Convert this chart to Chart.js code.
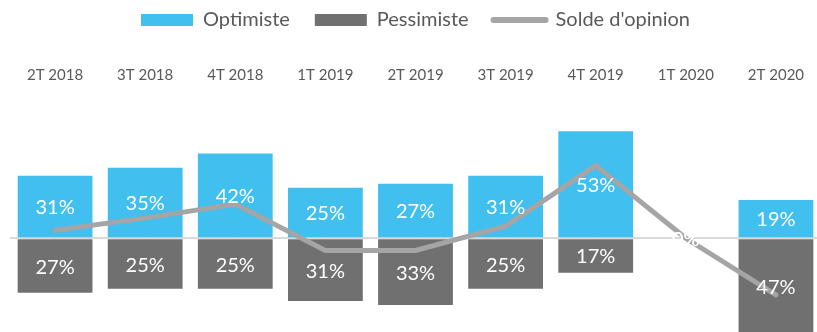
<!DOCTYPE html>
<html>
<head>
<meta charset="utf-8">
<script src="https://cdn.jsdelivr.net/npm/chart.js@4/dist/chart.umd.min.js"></script>
<style>
  html, body { margin: 0; padding: 0; background: #fff; overflow: hidden; }
  #wrap { width: 821px; height: 332px; position: relative; }
</style>
</head>
<body>
<div id="wrap"><canvas id="c"></canvas></div>
<script>
// Baromètre : part d'optimistes, de pessimistes et solde d'opinion par trimestre
const categories = ['2T 2018', '3T 2018', '4T 2018', '1T 2019', '2T 2019', '3T 2019', '4T 2019', '1T 2020', '2T 2020'];
const optimiste  = [31, 35, 42, 25, 27, 31, 53, 0, 19];
const pessimiste = [27, 25, 25, 31, 33, 25, 17, 0, 47];
const solde      = [4, 10, 17, -6, -6, 6, 36, 0, -28];

const FONT = 'Lato, "Open Sans", sans-serif';
const TEXT = '#595959';

// Pessimists are plotted below the zero line
const pessimisteNeg = pessimiste.map(v => -v);

// White percentage labels centred in each bar, plus small tick marks on the zero line
const barLabels = {
  id: 'barLabels',
  beforeDatasetsDraw(chart) {
    const { ctx } = chart;
    const x = chart.scales.x, y = chart.scales.y;
    const y0 = y.getPixelForValue(0);
    ctx.save();
    ctx.strokeStyle = '#d9d9d9';
    ctx.lineWidth = 1;
    categories.forEach((_, i) => {
      const px = Math.round(x.getPixelForValue(i)) + 0.5;
      ctx.beginPath();
      ctx.moveTo(px, y0);
      ctx.lineTo(px, y0 + 4);
      ctx.stroke();
    });
    ctx.restore();
  },
  afterDatasetsDraw(chart) {
    const { ctx } = chart;
    ctx.save();
    ctx.fillStyle = '#ffffff';
    ctx.font = '20px ' + FONT;
    ctx.textAlign = 'center';
    ctx.textBaseline = 'middle';
    [0, 1].forEach(di => {
      const meta = chart.getDatasetMeta(di);
      const src = di === 0 ? optimiste : pessimiste;
      meta.data.forEach((bar, i) => {
        const cy = (bar.y + bar.base) / 2;
        ctx.fillText(src[i] + '%', bar.x, cy + 1);
      });
    });
    ctx.restore();
  }
};

new Chart(document.getElementById('c'), {
  data: {
    labels: categories,
    datasets: [
      {
        type: 'bar',
        label: 'Optimiste',
        data: optimiste,
        backgroundColor: '#41bfef',
        order: 1
      },
      {
        type: 'bar',
        label: 'Pessimiste',
        data: pessimisteNeg,
        backgroundColor: '#707070',
        order: 1
      },
      {
        type: 'line',
        label: "Solde d'opinion",
        data: solde,
        stack: 'solde',
        borderColor: '#a5a5a5',
        backgroundColor: '#a5a5a5',
        borderWidth: 5,
        borderCapStyle: 'round',
        pointRadius: 0,
        pointHoverRadius: 0,
        tension: 0,
        order: 0
      }
    ]
  },
  options: {
    responsive: true,
    maintainAspectRatio: false,
    animation: false,
    layout: { padding: { top: -15, left: 10, right: 0, bottom: 0 } },
    datasets: {
      bar: { barPercentage: 1, categoryPercentage: 0.83 }
    },
    scales: {
      x: {
        position: 'top',
        stacked: true,
        grid: { display: false, drawTicks: false },
        border: { display: false },
        ticks: { color: TEXT, font: { family: FONT, size: 15 }, padding: 16, maxRotation: 0 },
        afterFit(s) { s.height = 60; }
      },
      y: {
        display: true,
        stacked: true,
        min: -46.4,
        max: 68.5,
        ticks: { display: false, stepSize: 20 },
        grid: {
          drawTicks: false,
          lineWidth: 2,
          color: c => (c.tick && c.tick.value === 0 ? '#d9d9d9' : 'rgba(0,0,0,0)')
        },
        border: { display: false },
        afterFit(s) { s.width = 0; }
      }
    },
    plugins: {
      tooltip: { enabled: false },
      legend: {
        position: 'top',
        labels: {
          color: TEXT,
          font: { family: FONT, size: 20 },
          usePointStyle: true,
          pointStyleWidth: 52,
          boxHeight: 12,
          padding: 25,
          sort: (a, b) => a.datasetIndex - b.datasetIndex,
          generateLabels(chart) {
            const items = Chart.defaults.plugins.legend.labels.generateLabels(chart);
            items.forEach(it => {
              const ds = chart.data.datasets[it.datasetIndex];
              if (ds.type === 'line') {
                it.pointStyle = 'line';
                it.lineWidth = 6;
                it.lineCap = 'round';
                it.strokeStyle = '#a5a5a5';
              } else {
                it.pointStyle = 'rect';
                it.lineWidth = 0;
                it.fillStyle = ds.backgroundColor;
                it.strokeStyle = ds.backgroundColor;
              }
            });
            return items;
          }
        }
      }
    }
  },
  plugins: [barLabels]
});
</script>
</body>
</html>
